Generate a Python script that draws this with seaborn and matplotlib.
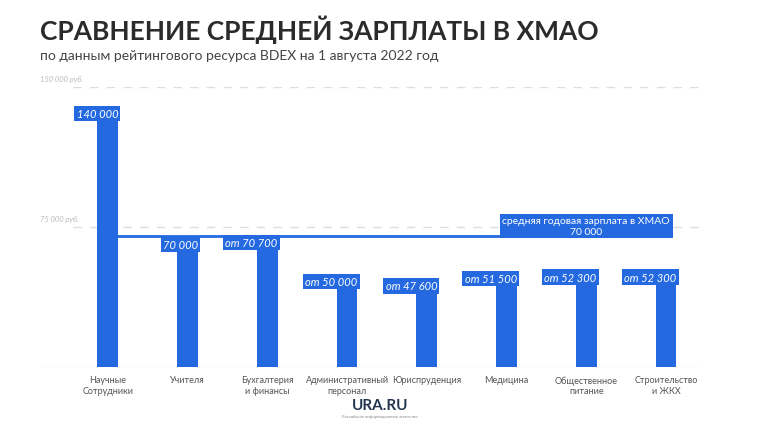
import matplotlib
matplotlib.use("Agg")
import matplotlib.pyplot as plt
import seaborn as sns
import pandas as pd

categories = ["Научные\nСотрудники", "Учителя", "Бухгалтерия\nи финансы", "Административный\nперсонал",
              "Юриспруденция", "Медицина", "Общественное\nпитание", "Строительство\nи ЖКХ"]
values = [140000, 70000, 70700, 50000, 47600, 51500, 52300, 52300]
value_labels = ["140 000", "70 000", "от 70 700", "от 50 000", "от 47 600", "от 51 500", "от 52 300", "от 52 300"]
average = 70000
ytick_values = [75000, 150000]
ytick_labels = ["75 000 руб.", "150 000 руб."]

blue = "#2469e0"
plt.rcParams["font.family"] = "Lato"

df = pd.DataFrame({"cat": categories, "val": values})

fig = plt.figure(figsize=(7.6, 4.27), dpi=100)
ax = fig.add_axes([40 / 760, 59 / 427, 660 / 760, 280 / 427])
sns.barplot(data=df, x="cat", y="val", color=blue, width=0.26, saturation=1, ax=ax)
ax.set_xlim(-0.85, 7.425)
ax.set_ylim(0, 150000)
for s in ax.spines.values():
    s.set_visible(False)
ax.set_yticks([])
ax.set_xlabel("")
ax.set_ylabel("")
ax.tick_params(axis="x", length=0, pad=6, labelsize=6.5, labelcolor="#555555")

# grid lines
for v, lab in zip(ytick_values, ytick_labels):
    ax.axhline(v, xmin=0.05, xmax=1.0, color="#dddddd", lw=1, ls=(0, (6, 6)), zorder=0)
    ax.text(-0.85, v + 2500, lab, fontsize=5.5, style="italic", color="#bbbbbb", va="bottom", ha="left")
ax.axhline(0, color="#e6e6e6", lw=1, zorder=0)

# average line and box
ax.plot([0.13, 7.05], [average, average], color=blue, lw=2, zorder=3)
ax.text(7.05, average + 400, "средняя годовая зарплата в ХМАО\n70 000", ha="right", va="bottom",
        fontsize=7.5, color="white", linespacing=1.2, multialignment="center", zorder=4,
        bbox=dict(boxstyle="square,pad=0.25", fc=blue, ec="none"))

# value labels
for i, (v, lab) in enumerate(zip(values, value_labels)):
    ax.text(i + 0.13, v - 1200, lab, ha="right", va="top", fontsize=8, style="italic", color="white", zorder=5,
            bbox=dict(boxstyle="square,pad=0.2", fc=blue, ec="none"))

fig.text(40 / 760, 1 - 30 / 427, "СРАВНЕНИЕ СРЕДНЕЙ ЗАРПЛАТЫ В ХМАО", fontsize=19, fontweight="bold",
         color="#2b2b2b", va="center", ha="left")
fig.text(40 / 760, 1 - 56 / 427, "по данным рейтингового ресурса BDEX на 1 августа 2022 год", fontsize=10,
         color="#444444", va="center", ha="left")
fig.text(380 / 760, 1 - 406 / 427, "URA.RU", fontsize=11, fontweight="bold", color="#23344f", ha="center", va="center")
fig.text(380 / 760, 1 - 417 / 427, "Российское информационное агентство", fontsize=3, color="#888888",
         ha="center", va="center")

fig.savefig("out.png", dpi=100)
